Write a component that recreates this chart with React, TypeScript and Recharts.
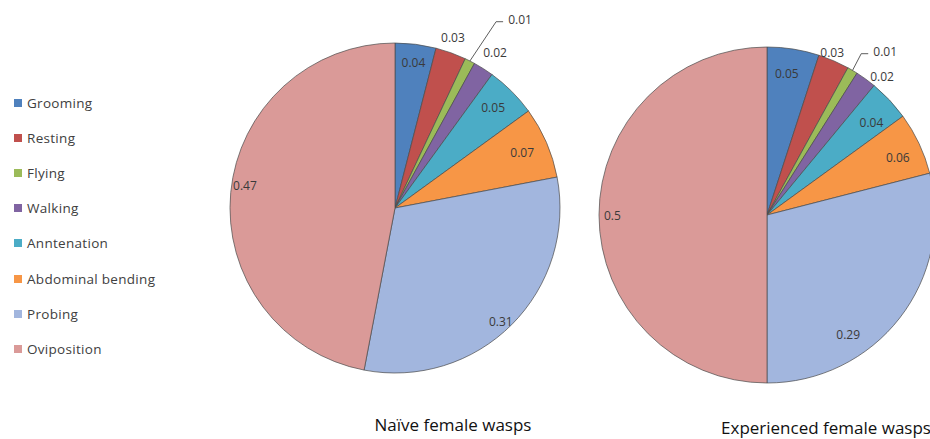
import React from "react";
import { PieChart, Pie, Cell } from "recharts";

const categories = [
  "Grooming",
  "Resting",
  "Flying",
  "Walking",
  "Anntenation",
  "Abdominal bending",
  "Probing",
  "Oviposition",
];
const naiveValues = [0.04, 0.03, 0.01, 0.02, 0.05, 0.07, 0.31, 0.47];
const experiencedValues = [0.05, 0.03, 0.01, 0.02, 0.04, 0.06, 0.29, 0.5];
const titles = ["Naïve female wasps", "Experienced female wasps"];

const colors = [
  "#4F81BD",
  "#C0504D",
  "#9BBB59",
  "#8064A2",
  "#4BACC6",
  "#F79646",
  "#A2B6DE",
  "#DA9A98",
];

const naiveData = categories.map((name, i) => ({ name, value: naiveValues[i] }));
const expData = categories.map((name, i) => ({ name, value: experiencedValues[i] }));

type Layout = { radius: number[]; shift: number[]; leader: number };
const naiveLayout: Layout = {
  radius: [0.89, 1.09, 1.37, 1.12, 0.85, 0.84, 0.94, 0.92],
  shift: [0, -1, 6.6, 0.4, -0.6, 0, 2, 3.3],
  leader: 2,
};
const expLayout: Layout = {
  radius: [0.85, 1.04, 1.2, 1.07, 0.83, 0.85, 0.86, 0.92],
  shift: [-1, -1.5, 5.3, 3.8, 1.7, 1.5, 18, 0],
  leader: 2,
};

const FONT = "'Open Sans', 'Noto Sans', sans-serif";
const RAD = Math.PI / 180;

const makeLabel = (layout: Layout) => (props: any) => {
  const { cx, cy, midAngle, outerRadius, index, value } = props;
  const ang = midAngle - layout.shift[index];
  const rr = outerRadius * layout.radius[index];
  const x = cx + rr * Math.cos(-ang * RAD);
  const y = cy + rr * Math.sin(-ang * RAD);
  const txt = (
    <text
      x={x}
      y={y}
      textAnchor="middle"
      dominantBaseline="central"
      fontSize={12}
      fontFamily={FONT}
      fill="#3a3a3a"
    >
      {value}
    </text>
  );
  if (index === layout.leader) {
    const ex = cx + outerRadius * Math.cos(-midAngle * RAD);
    const ey = cy + outerRadius * Math.sin(-midAngle * RAD);
    return (
      <g>
        <polyline
          points={`${ex},${ey} ${x - 24},${y + 2} ${x - 17},${y + 2}`}
          fill="none"
          stroke="#333"
          strokeWidth={0.8}
        />
        {txt}
      </g>
    );
  }
  return txt;
};

export default function App() {
  return (
    <div
      style={{
        position: "absolute",
        left: 0,
        top: 0,
        width: 930,
        height: 439,
        background: "#fff",
        overflow: "hidden",
      }}
    >
      <PieChart width={930} height={439} margin={{ top: 0, right: 0, bottom: 0, left: 0 }}>
        <Pie
          data={naiveData}
          dataKey="value"
          nameKey="name"
          cx={395}
          cy={208}
          outerRadius={165}
          startAngle={90}
          endAngle={-270}
          stroke="#4a4a4a"
          strokeWidth={0.7}
          isAnimationActive={false}
          labelLine={false}
          label={makeLabel(naiveLayout)}
        >
          {naiveData.map((d, i) => (
            <Cell key={d.name} fill={colors[i]} />
          ))}
        </Pie>
        <Pie
          data={expData}
          dataKey="value"
          nameKey="name"
          cx={767}
          cy={215}
          outerRadius={168}
          startAngle={90}
          endAngle={-270}
          stroke="#4a4a4a"
          strokeWidth={0.7}
          isAnimationActive={false}
          labelLine={false}
          label={makeLabel(expLayout)}
        >
          {expData.map((d, i) => (
            <Cell key={d.name} fill={colors[i]} />
          ))}
        </Pie>
      </PieChart>
      {categories.map((c, i) => (
        <div
          key={c}
          style={{
            position: "absolute",
            left: 14,
            top: 103 + i * 35.1 - 9,
            height: 18,
            display: "flex",
            alignItems: "center",
            fontFamily: FONT,
            fontSize: 13.5,
            letterSpacing: 0.3,
            color: "#404040",
            whiteSpace: "nowrap",
          }}
        >
          <span
            style={{
              display: "inline-block",
              width: 8,
              height: 8,
              background: colors[i],
              marginRight: 5,
            }}
          />
          {c}
        </div>
      ))}
      {titles.map((t, i) => (
        <div
          key={t}
          style={{
            position: "absolute",
            left: (i === 0 ? 453 : 826) - 150,
            width: 300,
            top: i === 0 ? 413 : 416,
            textAlign: "center",
            fontFamily: FONT,
            fontSize: 17,
            color: "#111",
            whiteSpace: "nowrap",
          }}
        >
          {t}
        </div>
      ))}
    </div>
  );
}
